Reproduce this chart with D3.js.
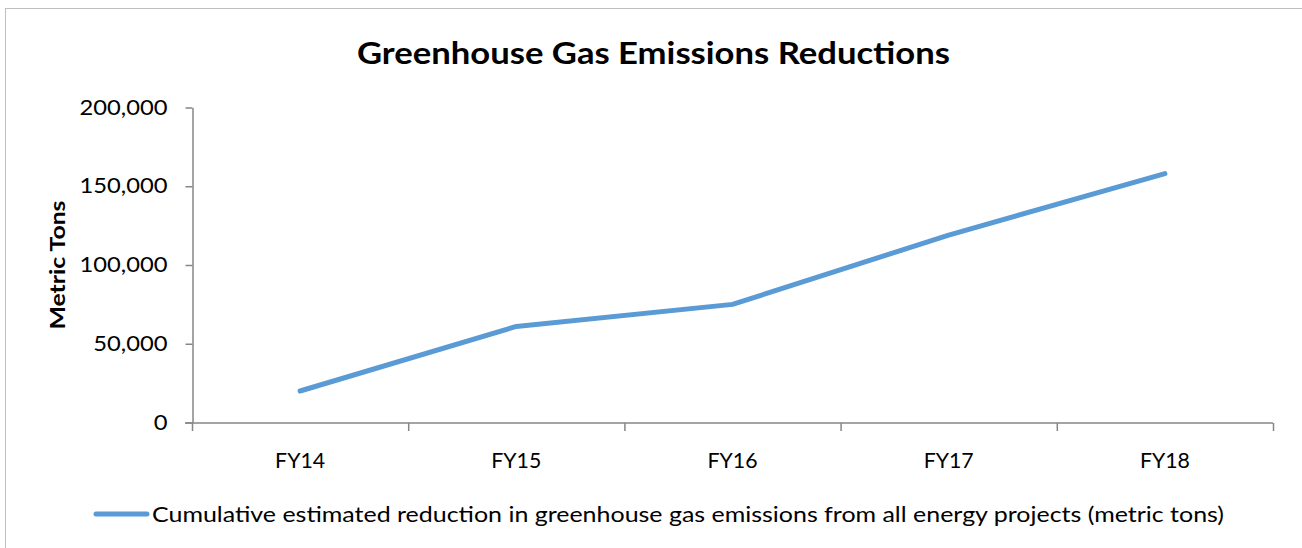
<!DOCTYPE html>
<html>
<head>
<meta charset="utf-8">
<script src="https://cdn.jsdelivr.net/npm/d3@7"></script>
<style>
  html, body { margin: 0; padding: 0; background: #fff; }
  svg { display: block; }
  text { font-family: Lato, "Open Sans", sans-serif; fill: #000; }
</style>
</head>
<body>
<svg id="chart" width="1302" height="548"></svg>
<script>
// Fiscal years and cumulative greenhouse gas reductions (metric tons)
const categories = ["FY14", "FY15", "FY16", "FY17", "FY18"];
const reductions = [20000, 61000, 75000, 119000, 158000];
const yTicks = [0, 50000, 100000, 150000, 200000];
const seriesName = "Cumulative estimated reduction in greenhouse gas emissions from all energy projects (metric tons)";
const chartTitle = "Greenhouse Gas Emissions Reductions";
const yTitle = "Metric Tons";

const svg = d3.select("#chart");
const W = 1302, H = 548;
const margin = { left: 192, right: 29, top: 107.5, bottom: 125.5 };
const axisColor = "#868686";
const lineColor = "#5B9BD5";

// widen glyphs horizontally by factor k
function widen(sel, k) {
  sel.each(function () {
    const w = this.getComputedTextLength();
    d3.select(this).attr("textLength", w * k).attr("lengthAdjust", "spacingAndGlyphs");
  });
}
// stretch text to a fixed length
function fitTo(sel, len) {
  sel.attr("textLength", len).attr("lengthAdjust", "spacingAndGlyphs");
}

// chart frame
svg.append("rect")
  .attr("x", 5.5).attr("y", 8.5)
  .attr("width", W + 10).attr("height", H + 10)
  .attr("fill", "#fff").attr("stroke", "#bfbfbf").attr("stroke-width", 1);

const x = d3.scaleBand().domain(categories)
  .range([margin.left, W - margin.right]).paddingInner(0).paddingOuter(0);
const y = d3.scaleLinear().domain([0, 200000]).range([H - margin.bottom, margin.top]);

// y axis
const yAxis = d3.axisLeft(y).tickValues(yTicks)
  .tickFormat(d3.format(",")).tickSizeInner(7).tickSizeOuter(0).tickPadding(18);
const gy = svg.append("g").attr("transform", `translate(${margin.left + 0.5},0)`).call(yAxis);
gy.select(".domain").attr("stroke", axisColor).attr("stroke-width", 1.5);
gy.selectAll(".tick line").attr("stroke", axisColor).attr("stroke-width", 1.5);
const tickTexts = gy.selectAll(".tick text")
  .attr("font-size", 20.5).attr("font-family", "Lato, sans-serif").attr("fill", "#000");
const refTick = tickTexts.filter(d => d === 200000).node().getComputedTextLength();
widen(tickTexts, 88 / refTick);

// x axis with ticks at category boundaries
const xAxisY = y(0) + 0.5;
svg.append("line")
  .attr("x1", margin.left - 7).attr("x2", W - margin.right)
  .attr("y1", xAxisY).attr("y2", xAxisY)
  .attr("stroke", axisColor).attr("stroke-width", 1.5);
const bounds = categories.map(c => x(c)).concat([x(categories[categories.length - 1]) + x.bandwidth()]);
svg.selectAll(".xtick").data(bounds).enter().append("line")
  .attr("x1", d => d + 0.5).attr("x2", d => d + 0.5)
  .attr("y1", xAxisY).attr("y2", xAxisY + 8)
  .attr("stroke", axisColor).attr("stroke-width", 1.5);
const xLabels = svg.selectAll(".xlabel").data(categories).enter().append("text")
  .attr("x", d => x(d) + x.bandwidth() / 2)
  .attr("y", 468)
  .attr("text-anchor", "middle")
  .attr("font-size", 20.5)
  .text(d => d);
fitTo(xLabels, 50);

// data line
const line = d3.line()
  .x((d, i) => x(categories[i]) + x.bandwidth() / 2)
  .y(d => y(d));
svg.append("path").datum(reductions)
  .attr("d", line)
  .attr("fill", "none")
  .attr("stroke", lineColor)
  .attr("stroke-width", 5)
  .attr("stroke-linecap", "round")
  .attr("stroke-linejoin", "round");

// title
const title = svg.append("text")
  .attr("x", 653.5).attr("y", 64)
  .attr("text-anchor", "middle")
  .attr("font-size", 30).attr("font-weight", "bold")
  .text(chartTitle);
fitTo(title, 593);

// y axis title
const yt = svg.append("text")
  .attr("transform", "translate(65,265) rotate(-90)")
  .attr("text-anchor", "middle")
  .attr("font-size", 21).attr("font-weight", "bold")
  .text(yTitle);
fitTo(yt, 129);

// legend
svg.append("line")
  .attr("x1", 96).attr("x2", 147)
  .attr("y1", 514).attr("y2", 514)
  .attr("stroke", lineColor).attr("stroke-width", 5)
  .attr("stroke-linecap", "round");
const legendText = svg.append("text")
  .attr("x", 152).attr("y", 521.5)
  .attr("font-size", 20.5)
  .text(seriesName);
fitTo(legendText, 1072);
</script>
</body>
</html>
